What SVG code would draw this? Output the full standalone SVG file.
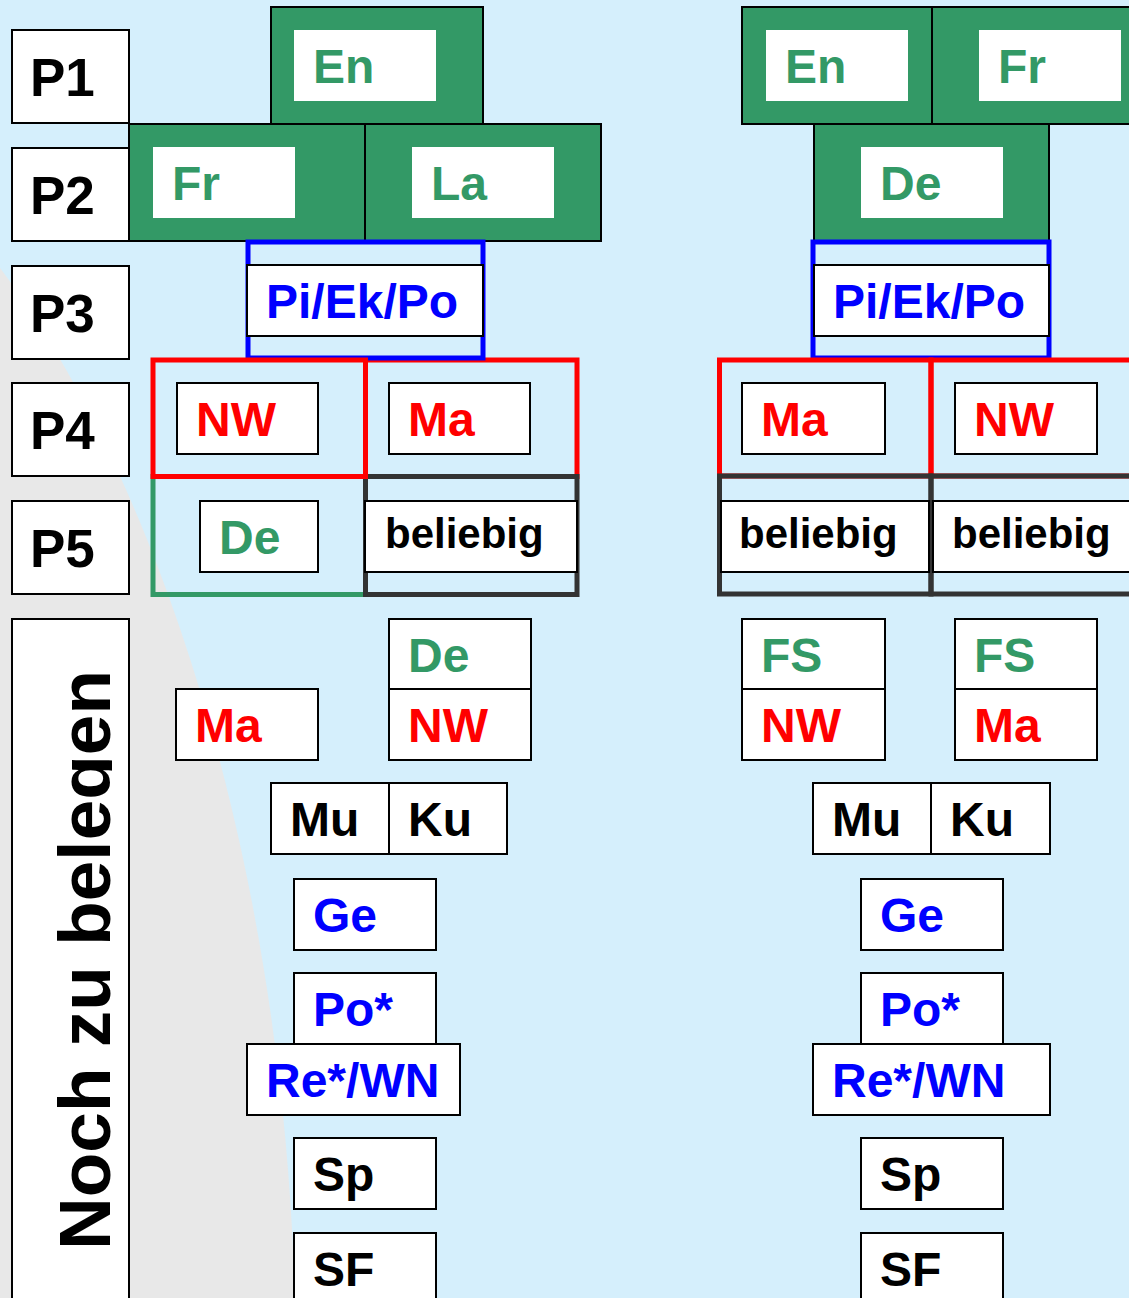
<svg xmlns="http://www.w3.org/2000/svg" width="1129" height="1298" viewBox="0 0 1129 1298">
<style>
text{font-family:"Liberation Sans",Arial,sans-serif;font-weight:bold;font-size:48px}
.p{font-size:53px;fill:#000}
.bel{font-size:42px;fill:#000}
.bx{fill:#fff;stroke:#000;stroke-width:2}
.wi{fill:#fff}
.gb{fill:#339966;stroke:#000;stroke-width:2}
.g{fill:#339966}.r{fill:#ff0000}.b{fill:#0000ff}.k{fill:#000}
.fr{fill:none;stroke:#ff0000;stroke-width:5}
.fb{fill:none;stroke:#0000ff;stroke-width:5}
.fg{fill:none;stroke:#339966;stroke-width:5}
.fd{fill:none;stroke:#333;stroke-width:5}
.ln{stroke:#000;stroke-width:2}
</style>
<defs>
<clipPath id="nochclip"><rect x="12" y="619" width="100" height="680"/></clipPath>
</defs>
<rect width="1129" height="1298" fill="#d5effc"/>
<path d="M0,268 C130,440 280,800 295,1298 L0,1298 Z" fill="#e8e8e8"/>

<g id="labels">
<g id="p1"><rect class="bx" x="12" y="30" width="117" height="93"/><text class="p" x="30" y="96">P1</text></g>
<g id="p2"><rect class="bx" x="12" y="148" width="117" height="93"/><text class="p" x="30" y="214">P2</text></g>
<g id="p3"><rect class="bx" x="12" y="266" width="117" height="93"/><text class="p" x="30" y="332">P3</text></g>
<g id="p4"><rect class="bx" x="12" y="383" width="117" height="93"/><text class="p" x="30" y="449">P4</text></g>
<g id="p5"><rect class="bx" x="12" y="501" width="117" height="93"/><text class="p" x="30" y="567">P5</text></g>
<g id="noch"><rect class="bx" x="12" y="619" width="117" height="700"/><g clip-path="url(#nochclip)"><text class="k" style="font-size:73px" text-anchor="middle" transform="translate(110,960) rotate(-90)">Noch zu belegen</text></g></g>
</g>

<g id="left">
<g id="l-en"><rect class="gb" x="271" y="7" width="212" height="117"/><rect class="wi" x="294" y="30" width="142" height="71"/><text class="g" x="313" y="83">En</text></g>
<g id="l-fr"><rect class="gb" x="129" y="124" width="236" height="117"/><rect class="wi" x="153" y="147" width="142" height="71"/><text class="g" x="172" y="200">Fr</text></g>
<g id="l-la"><rect class="gb" x="365" y="124" width="236" height="117"/><rect class="wi" x="412" y="147" width="142" height="71"/><text class="g" x="431" y="200">La</text></g>
<rect class="fg" x="153" y="476.5" width="212.5" height="118"/>
<rect class="fr" x="365.5" y="360" width="211.5" height="116.5"/>
<rect class="fd" x="365.5" y="476.5" width="211.5" height="118"/>
<rect class="fb" x="248" y="242" width="235" height="116"/>
<rect class="fr" x="153" y="360" width="212.5" height="116.5"/>
<g id="l-pi"><rect class="bx" x="247" y="265" width="236" height="71"/><text class="b" x="266" y="318">Pi/Ek/Po</text></g>
<g id="l-nw"><rect class="bx" x="177" y="383" width="141" height="71"/><text class="r" x="196" y="436">NW</text></g>
<g id="l-ma"><rect class="bx" x="389" y="383" width="141" height="71"/><text class="r" x="408" y="436">Ma</text></g>
<g id="l-de"><rect class="bx" x="200" y="501" width="118" height="71"/><text class="g" x="219" y="554">De</text></g>
<g id="l-bel"><rect class="bx" x="365" y="501" width="212" height="71"/><text class="bel" x="385" y="548">beliebig</text></g>
<g id="l-ma2"><rect class="bx" x="176" y="689" width="142" height="71"/><text class="r" x="195" y="742">Ma</text></g>
<g id="l-denw"><rect class="bx" x="389" y="619" width="142" height="141"/><line class="ln" x1="389" y1="689" x2="531" y2="689"/><text class="g" x="408" y="672">De</text><text class="r" x="408" y="742">NW</text></g>
<g id="l-muku"><rect class="bx" x="271" y="783" width="236" height="71"/><line class="ln" x1="389" y1="783" x2="389" y2="854"/><text class="k" x="290" y="836">Mu</text><text class="k" x="408" y="836">Ku</text></g>
<g id="l-ge"><rect class="bx" x="294" y="879" width="142" height="71"/><text class="b" x="313" y="932">Ge</text></g>
<g id="l-po"><rect class="bx" x="294" y="973" width="142" height="71"/><text class="b" x="313" y="1026">Po*</text></g>
<g id="l-re"><rect class="bx" x="247" y="1044" width="213" height="71"/><text class="b" x="266" y="1097">Re*/WN</text></g>
<g id="l-sp"><rect class="bx" x="294" y="1138" width="142" height="71"/><text class="k" x="313" y="1191">Sp</text></g>
<g id="l-sf"><rect class="bx" x="294" y="1233" width="142" height="80"/><text class="k" x="313" y="1286">SF</text></g>
</g>

<g id="right">
<g id="r-en"><rect class="gb" x="742" y="7" width="190" height="117"/><rect class="wi" x="766" y="30" width="142" height="71"/><text class="g" x="785" y="83">En</text></g>
<g id="r-fr"><rect class="gb" x="932" y="7" width="215" height="117"/><rect class="wi" x="979" y="30" width="142" height="71"/><text class="g" x="998" y="83">Fr</text></g>
<g id="r-de"><rect class="gb" x="814" y="124" width="235" height="117"/><rect class="wi" x="861" y="147" width="142" height="71"/><text class="g" x="880" y="200">De</text></g>
<rect class="fb" x="813" y="242" width="236" height="116"/>
<rect class="fr" x="719.5" y="360" width="211.5" height="116"/>
<rect class="fr" x="931" y="360" width="211.5" height="116"/>
<rect class="fd" x="719.5" y="476" width="211.5" height="118"/>
<rect class="fd" x="931" y="476" width="211.5" height="118"/>
<g id="r-pi"><rect class="bx" x="814" y="265" width="235" height="71"/><text class="b" x="833" y="318">Pi/Ek/Po</text></g>
<g id="r-ma"><rect class="bx" x="742" y="383" width="143" height="71"/><text class="r" x="761" y="436">Ma</text></g>
<g id="r-nw"><rect class="bx" x="955" y="383" width="142" height="71"/><text class="r" x="974" y="436">NW</text></g>
<g id="r-bel1"><rect class="bx" x="721" y="501" width="208" height="71"/><text class="bel" x="739" y="548">beliebig</text></g>
<g id="r-bel2"><rect class="bx" x="933" y="501" width="210" height="71"/><text class="bel" x="952" y="548">beliebig</text></g>
<g id="r-fsnw"><rect class="bx" x="742" y="619" width="143" height="141"/><line class="ln" x1="742" y1="689" x2="885" y2="689"/><text class="g" x="761" y="672">FS</text><text class="r" x="761" y="742">NW</text></g>
<g id="r-fsma"><rect class="bx" x="955" y="619" width="142" height="141"/><line class="ln" x1="955" y1="689" x2="1097" y2="689"/><text class="g" x="974" y="672">FS</text><text class="r" x="974" y="742">Ma</text></g>
<g id="r-muku"><rect class="bx" x="813" y="783" width="237" height="71"/><line class="ln" x1="931" y1="783" x2="931" y2="854"/><text class="k" x="832" y="836">Mu</text><text class="k" x="950" y="836">Ku</text></g>
<g id="r-ge"><rect class="bx" x="861" y="879" width="142" height="71"/><text class="b" x="880" y="932">Ge</text></g>
<g id="r-po"><rect class="bx" x="861" y="973" width="142" height="71"/><text class="b" x="880" y="1026">Po*</text></g>
<g id="r-re"><rect class="bx" x="813" y="1044" width="237" height="71"/><text class="b" x="832" y="1097">Re*/WN</text></g>
<g id="r-sp"><rect class="bx" x="861" y="1138" width="142" height="71"/><text class="k" x="880" y="1191">Sp</text></g>
<g id="r-sf"><rect class="bx" x="861" y="1233" width="142" height="80"/><text class="k" x="880" y="1286">SF</text></g>
</g>
<g id="connectors"/>
</svg>
